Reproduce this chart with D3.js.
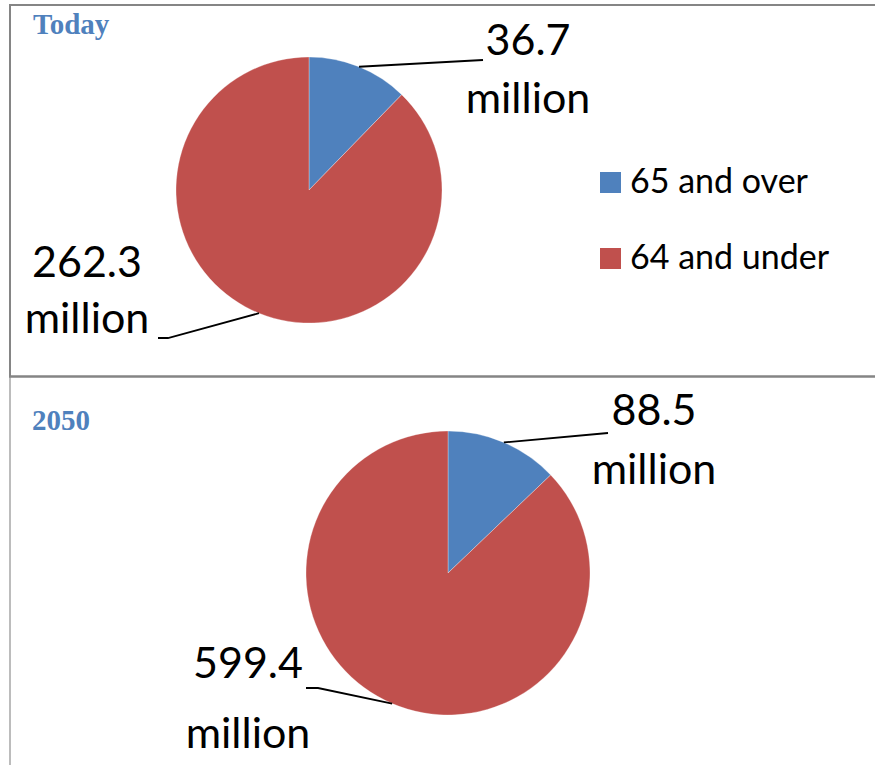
<!DOCTYPE html>
<html>
<head>
<meta charset="utf-8">
<script src="https://cdn.jsdelivr.net/npm/d3@7"></script>
<style>
  html, body { margin: 0; padding: 0; background: #fff; }
  svg { display: block; }
</style>
</head>
<body>
<svg id="chart" width="875" height="765"></svg>
<script>
// Population by age group, in millions
const categories = ["65 and over", "64 and under"];
const periods = ["Today", "2050"];
const todayValues = [36.7, 262.3];
const values2050 = [88.5, 599.4];
const unitLabel = "million";
const colors = ["#4F81BD", "#C0504D"];

const svg = d3.select("#chart");
const W = 875, H = 765;

const color = d3.scaleOrdinal().domain(categories).range(colors);
const fmt = d3.format(".1f");

// Table-like frame around the two panels
const frame = svg.append("g");
frame.append("line").attr("x1", 9).attr("x2", W).attr("y1", 5).attr("y2", 5)
  .attr("stroke", "#858585").attr("stroke-width", 2);
frame.append("line").attr("x1", 10).attr("x2", 10).attr("y1", 4).attr("y2", 377)
  .attr("stroke", "#858585").attr("stroke-width", 2);
frame.append("line").attr("x1", 10).attr("x2", 10).attr("y1", 377).attr("y2", H)
  .attr("stroke", "#a6a6a6").attr("stroke-width", 1.5);
frame.append("line").attr("x1", 9).attr("x2", W).attr("y1", 376.5).attr("y2", 376.5)
  .attr("stroke", "#858585").attr("stroke-width", 2.5);

// Panel layouts: pie geometry and label placement
const panels = [
  {
    title: periods[0], values: todayValues,
    titleX: 33, titleY: 34,
    cx: 309, cy: 190, r: 133,
    labels: [
      { x: 528, y: 55, gap: 58, leader: [[483, 60]] },
      { x: 87, y: 277, gap: 56, leader: [[158, 338], [168, 338]] }
    ]
  },
  {
    title: periods[1], values: values2050,
    titleX: 32, titleY: 430,
    cx: 448, cy: 573, r: 142,
    labels: [
      { x: 654, y: 425, gap: 59, leader: [[608, 433]] },
      { x: 248, y: 678, gap: 70, leader: [[306, 688], [318, 688]] }
    ]
  }
];

const pie = d3.pie().sort(null).value(d => d.value);

panels.forEach(p => {
  const g = svg.append("g");

  g.append("text")
    .attr("x", p.titleX).attr("y", p.titleY)
    .attr("font-family", "'Liberation Serif', 'Times New Roman', serif")
    .attr("font-weight", "bold")
    .attr("font-size", 29)
    .attr("fill", "#4F81BD")
    .text(p.title);

  const data = categories.map((c, i) => ({ category: c, value: p.values[i] }));
  const arcs = pie(data);
  const arc = d3.arc().innerRadius(0).outerRadius(p.r);

  const pg = g.append("g").attr("transform", `translate(${p.cx},${p.cy})`);
  pg.selectAll("path").data(arcs).join("path")
    .attr("d", arc)
    .attr("fill", d => color(d.data.category))
    .attr("stroke", "#ffffff")
    .attr("stroke-opacity", 0.5)
    .attr("stroke-width", 0.6);

  arcs.forEach((a, i) => {
    const L = p.labels[i];
    const mid = (a.startAngle + a.endAngle) / 2;
    const px = p.cx + p.r * Math.sin(mid);
    const py = p.cy - p.r * Math.cos(mid);
    const pts = L.leader.concat([[px, py]]);
    g.append("path")
      .attr("d", d3.line()(pts))
      .attr("fill", "none")
      .attr("stroke", "#000")
      .attr("stroke-width", 1.8);

    const t = g.append("text")
      .attr("font-family", "Lato, 'Open Sans', sans-serif")
      .attr("font-size", 43)
      .attr("fill", "#000")
      .attr("text-anchor", "middle");
    t.append("tspan").attr("x", L.x).attr("y", L.y).text(fmt(a.data.value));
    t.append("tspan").attr("x", L.x).attr("y", L.y + L.gap).text(unitLabel);
  });
});

// Legend
const legend = svg.append("g");
categories.forEach((c, i) => {
  const y = 172 + i * 76;
  legend.append("rect")
    .attr("x", 600).attr("y", y).attr("width", 21).attr("height", 21)
    .attr("fill", color(c));
  legend.append("text")
    .attr("x", 630).attr("y", y + 21)
    .attr("font-family", "Lato, 'Open Sans', sans-serif")
    .attr("font-size", 34)
    .attr("fill", "#000")
    .text(c);
});
</script>
</body>
</html>
